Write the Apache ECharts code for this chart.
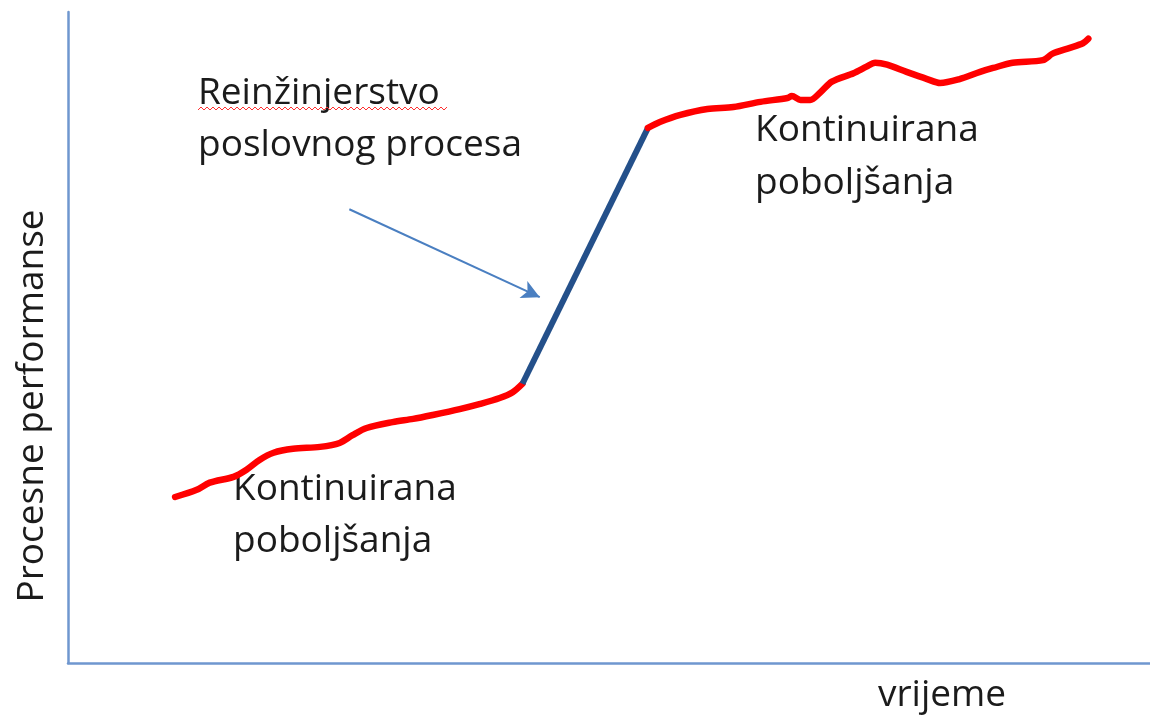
<!DOCTYPE html>
<html>
<head>
<meta charset="utf-8">
<script src="https://cdn.jsdelivr.net/npm/echarts@6/dist/echarts.min.js"></script>
<style>
  html, body { margin: 0; padding: 0; background: #fff; }
  #chart { width: 1150px; height: 718px; }
</style>
</head>
<body>
<div id="chart"></div>
<script>
// time (0-100) vs process performance (0-100)
var beforeX = [9.9, 11.9, 13.1, 15.3, 16.5, 17.7, 19.0, 20.8, 23.3, 25.1, 26.3, 27.6, 30.0, 31.9, 33.7, 36.2, 38.1, 39.9, 41.1, 42.0];
var beforeY = [25.5, 26.6, 27.7, 28.6, 29.7, 31.2, 32.3, 32.9, 33.2, 33.8, 35.0, 36.1, 37.0, 37.5, 38.1, 39.0, 39.8, 40.7, 41.6, 42.9];

var jumpX = [42.0, 53.6];
var jumpY = [42.9, 82.2];

var afterX = [53.6, 54.7, 56.6, 59.1, 61.5, 64.0, 66.5, 66.9, 67.7, 68.6, 69.5, 70.6, 72.6, 73.8, 74.6, 75.7, 77.5, 79.4, 80.6, 82.4, 84.3, 85.5, 87.3, 90.1, 91.0, 92.6, 93.8, 94.3];
var afterY = [82.2, 83.1, 84.2, 85.1, 85.4, 86.2, 86.8, 87.1, 86.5, 86.5, 87.6, 89.3, 90.6, 91.6, 92.2, 91.9, 90.8, 89.7, 89.1, 89.7, 90.8, 91.4, 92.2, 92.6, 93.6, 94.5, 95.2, 95.9];

// annotation arrow, start and tip in data units
var arrowFrom = [26.0, 69.7];
var arrowTo = [43.6, 56.2];

var FONT = '"Open Sans", "Noto Sans", sans-serif';
var INK = '#1b1b1b';
var AXIS = '#6f97cf';

function pairs(xs, ys) {
  return xs.map(function (x, i) { return [x, ys[i]]; });
}

function label(text, x, y) {
  return {
    type: 'text', x: x, y: y,
    style: { text: text, fill: INK, font: '37px ' + FONT, align: 'left', verticalAlign: 'middle' }
  };
}

// spell-check squiggle under "Reinžinjerstvo"
var squiggle = [];
for (var sx = 198, k = 0; sx <= 447; sx += 3, k++) squiggle.push([sx, k % 2 ? 107 : 110]);

var chart = echarts.init(document.getElementById('chart'));
chart.setOption({
  animation: false,
  grid: { left: 68, right: 0, top: 12, bottom: 55 },
  xAxis: {
    type: 'value', min: 0, max: 100,
    axisLine: { show: true, lineStyle: { color: AXIS, width: 2.5 } },
    axisTick: { show: false }, axisLabel: { show: false }, splitLine: { show: false }
  },
  yAxis: {
    type: 'value', min: 0, max: 100,
    axisLine: { show: true, lineStyle: { color: AXIS, width: 2.5 } },
    axisTick: { show: false }, axisLabel: { show: false }, splitLine: { show: false }
  },
  series: [
    {
      type: 'line', data: pairs(beforeX, beforeY), smooth: 0.3, symbol: 'none',
      lineStyle: { color: '#ff0000', width: 6.5, cap: 'round', join: 'round' }
    },
    {
      type: 'line', data: pairs(jumpX, jumpY), symbol: 'none',
      lineStyle: { color: '#24508a', width: 6 },
      markLine: {
        silent: true, symbol: ['none', 'arrow'], symbolSize: [14, 18],
        lineStyle: { color: '#4a7fc1', width: 2, type: 'solid' },
        label: { show: false },
        data: [[{ coord: arrowFrom }, { coord: arrowTo }]]
      }
    },
    {
      type: 'line', data: pairs(afterX, afterY), smooth: 0.3, symbol: 'none',
      lineStyle: { color: '#ff0000', width: 6.5, cap: 'round', join: 'round' }
    }
  ],
  graphic: [
    label('Reinžinjerstvo', 198, 93),
    label('poslovnog procesa', 198, 145),
    label('Kontinuirana', 233, 489),
    label('poboljšanja', 233, 541),
    label('Kontinuirana', 755, 130),
    label('poboljšanja', 755, 183),
    label('vrijeme', 878, 695),
    {
      type: 'text', x: 32, y: 406, rotation: Math.PI / 2,
      style: { text: 'Procesne performanse', fill: INK, font: '37px ' + FONT, align: 'center', verticalAlign: 'middle' }
    },
    {
      type: 'polyline', shape: { points: squiggle },
      style: { stroke: '#ff3030', lineWidth: 1, fill: null }
    }
  ]
});
</script>
</body>
</html>
